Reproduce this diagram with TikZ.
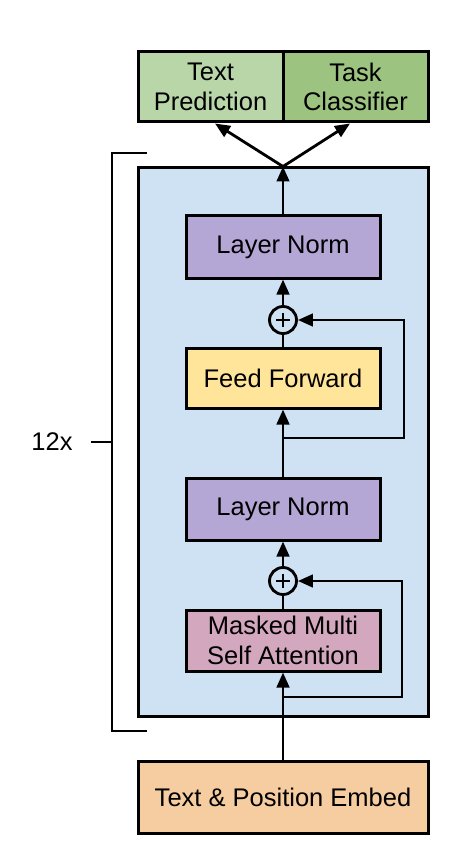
\documentclass[tikz,border=0pt]{standalone}
\usepackage{fontspec}
\setmainfont{Liberation Sans}
\usetikzlibrary{arrows.meta, positioning, calc}

\definecolor{predgreen}{HTML}{B9D6A9}
\definecolor{clsgreen}{HTML}{9DC381}
\definecolor{blockblue}{HTML}{CFE2F3}
\definecolor{normpurple}{HTML}{B4A7D6}
\definecolor{ffyellow}{HTML}{FFE599}
\definecolor{attnpink}{HTML}{D3A7BE}
\definecolor{embedorange}{HTML}{F6CDA0}

\begin{document}
\begin{tikzpicture}[x=1pt, y=-1pt,
    font=\fontsize{25.5}{29.5}\selectfont,
    box/.style={draw, line width=3pt, align=center, inner sep=0pt,
      minimum width=194pt, minimum height=62pt},
    wide/.style={box, minimum width=290pt},
    addnode/.style={draw, circle, line width=2.8pt, minimum size=27pt, inner sep=0pt,
      fill=blockblue,
      path picture={\draw[line width=2.6pt]
        ([xshift=-7pt]path picture bounding box.center) -- ([xshift=7pt]path picture bounding box.center)
        ([yshift=-7pt]path picture bounding box.center) -- ([yshift=7pt]path picture bounding box.center);}},
    conn/.style={line width=2.8pt},
    arr/.style={conn, -{Triangle[length=15pt, width=12.5pt]}},
    brace/.style={line width=1.4pt}]
      \useasboundingbox (0,0) rectangle (462,866);

      % outputs
      \node[box, fill=predgreen, minimum width=145pt, minimum height=70pt] (pred) at (210.5, 87) {Text\\Prediction};
      \node[box, fill=clsgreen, minimum width=145pt, minimum height=70pt] (cls) at (355.5, 87) {Task\\Classifier};

      % transformer block
      \node[wide, fill=blockblue, minimum height=548pt] (block) at (283, 442) {};
      \node[box, fill=normpurple] (norm2) at (283, 247) {Layer Norm};
      \node[addnode] (add2) at (283, 320) {};
      \node[box, fill=ffyellow, minimum height=60pt] (ff) at (283, 378) {Feed Forward};
      \node[box, fill=normpurple] (norm1) at (283, 509) {Layer Norm};
      \node[addnode] (add1) at (283, 581) {};
      \node[box, fill=attnpink, minimum height=61pt] (attn) at (283, 640.5) {Masked Multi\\Self Attention};

      % input
      \node[wide, fill=embedorange, minimum height=72pt] (embed) at (283, 797) {Text \& Position Embed};

      % repeat bracket
      \node (rep) at (52, 442) {12x};
      \coordinate (bt) at (147, 153);
      \coordinate (bb) at (147, 731);
      \coordinate (bm) at (112, 442);
      \draw[brace] (bt) -| (bm) |- (bb);
      \draw[brace] (91, 442) -- (bm);

      % main path
      \coordinate (res1) at (283, 697);
      \coordinate (res2) at (283, 438);
      \draw[arr] (embed.north) -- (attn.south);
      \draw[arr] (res1) -- ++(119, 0) |- (add1);
      \draw[conn] (attn.north) -- (add1);
      \draw[arr] (add1) -- (norm1.south);
      \draw[arr] (norm1.north) -- (ff.south);
      \draw[arr] (res2) -- ++(121, 0) |- (add2);
      \draw[conn] (ff.north) -- (add2);
      \draw[arr] (add2) -- (norm2.south);
      \draw[arr] (norm2.north) -- (block.north);
      \draw[arr] (block.north) -- ([xshift=4.5pt]pred.south);
      \draw[arr] (block.north) -- ([xshift=-5.5pt]cls.south);
    \end{tikzpicture}
\end{document}
